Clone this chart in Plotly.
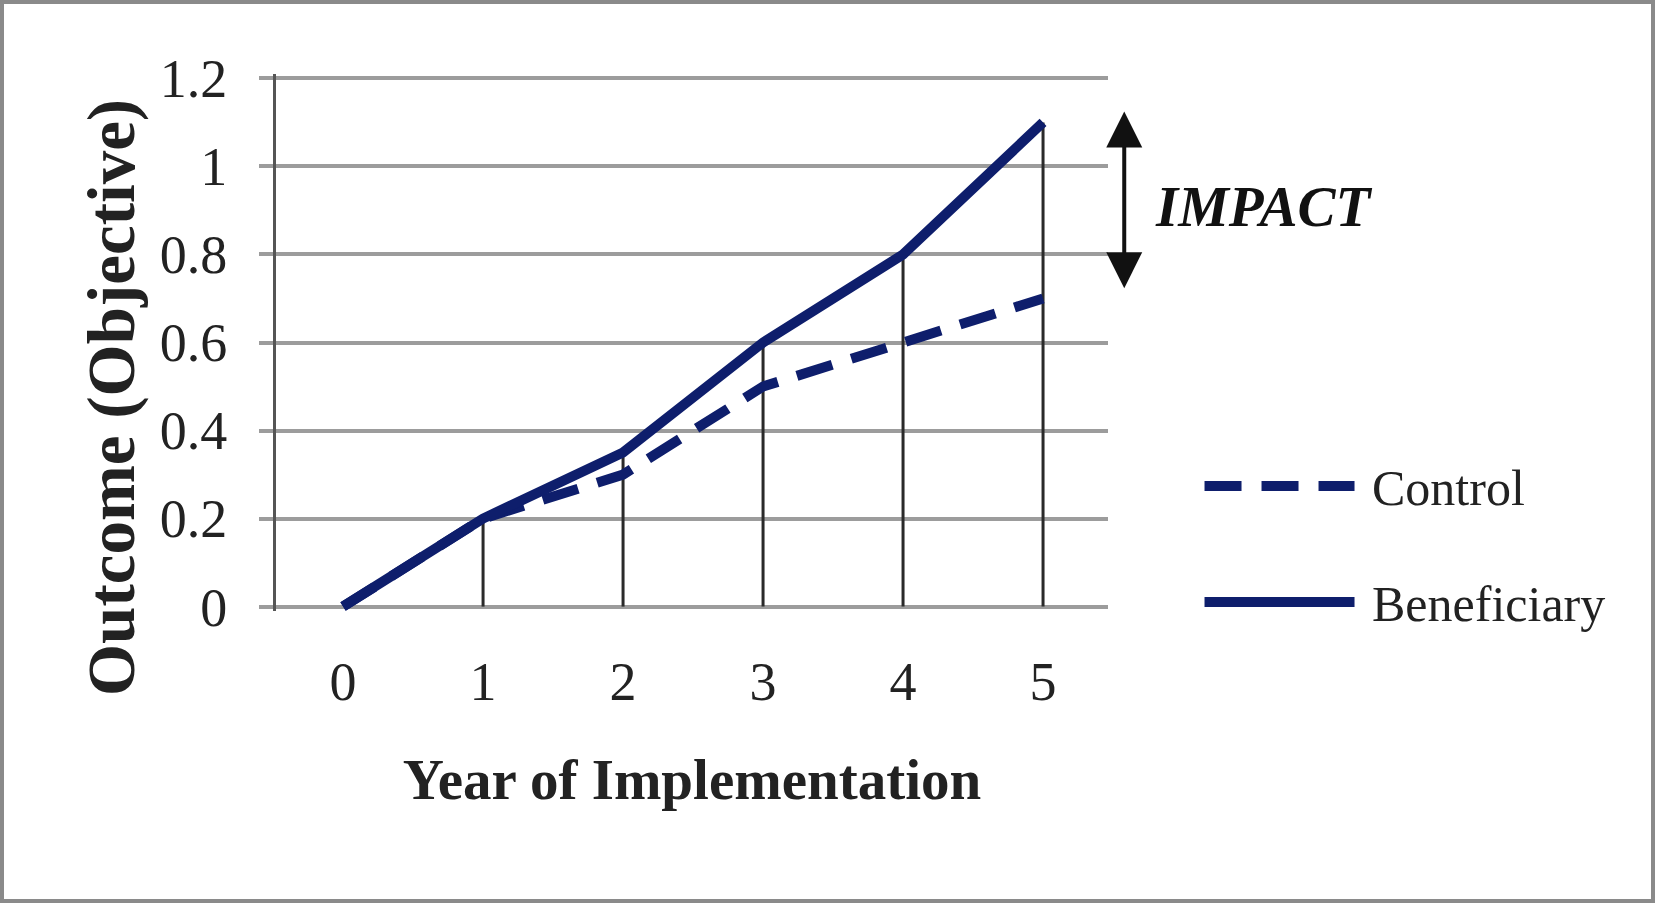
import plotly.graph_objects as go

years = [0, 1, 2, 3, 4, 5]
control = [0, 0.2, 0.3, 0.5, 0.6, 0.7]
beneficiary = [0, 0.2, 0.35, 0.6, 0.8, 1.1]
y_tickvals = [0, 0.2, 0.4, 0.6, 0.8, 1.0, 1.2]
y_ticktext = ["0", "0.2", "0.4", "0.6", "0.8", "1", "1.2"]
x_ticktext = ["0", "1", "2", "3", "4", "5"]

NAVY = "#0e1e6c"
GRID = "#9c9c9c"
FONT = "Liberation Serif"

W, H = 1655, 903
ML, MR, MT, MB = 276, 547, 74, 292
XR = [-0.479, 5.464]
YR = [-0.01, 1.21]

fig = go.Figure()

# drop lines from each point to the axis
dx, dy = [], []
for x, a, b in zip(years, control, beneficiary):
    dx += [x, x, None]
    dy += [0, max(a, b), None]
fig.add_trace(go.Scatter(x=dx, y=dy, mode="lines", line=dict(color="#2a2a2a", width=3),
                         showlegend=False, hoverinfo="skip"))

fig.add_trace(go.Scatter(x=years, y=control, mode="lines", name="\u00a0Control",
                         legendgroup="c",
                         line=dict(color=NAVY, width=10, dash="37px,20px")))
fig.add_trace(go.Scatter(x=years, y=beneficiary, mode="lines", name="\u00a0Beneficiary",
                         legendgroup="b",
                         line=dict(color=NAVY, width=10)))

pw = W - ML - MR
ph = H - MT - MB
py_per_unit = ph / (YR[1] - YR[0])


def xp(v):
    return (v - XR[0]) / (XR[1] - XR[0])


def yp(v):
    return (v - YR[0]) / (YR[1] - YR[0])


# impact arrow (to the right of year 5)
arrow_x = xp(years[-1] + 0.58)
top = beneficiary[-1] + 0.025
bottom = control[-1] + 0.02
fig.add_annotation(x=arrow_x, y=yp(top), ax=0, ay=(top - bottom) * py_per_unit,
                   xref="paper", yref="paper", axref="pixel", ayref="pixel",
                   showarrow=True, arrowhead=2, startarrowhead=2, arrowside="end+start",
                   arrowwidth=4, arrowsize=1.8, startarrowsize=1.8, arrowcolor="#111111", text="")
fig.add_annotation(x=xp(years[-1] + 0.785), y=yp((beneficiary[-1] + control[-1]) / 2 + 0.01),
                   xref="paper", yref="paper",
                   xanchor="left", yanchor="middle", showarrow=False,
                   text="<b><i>IMPACT</i></b>", font=dict(family=FONT, size=57, color="#111111"))

# y-axis title
fig.add_annotation(x=(111 - ML) / pw, y=1 - (398 - MT) / ph, xref="paper", yref="paper",
                   xanchor="center", yanchor="middle", showarrow=False, textangle=-90,
                   text="<b>Outcome (Objective)</b>",
                   font=dict(family=FONT, size=67, color="#222222"))

# outer frame
fig.add_shape(type="rect", xref="paper", yref="paper",
              x0=(-ML + 2) / pw, x1=1 + (MR - 2) / pw,
              y0=(-MB + 2) / ph, y1=1 + (MT - 2) / ph,
              line=dict(color="#8a8a8a", width=4), layer="below")

fig.update_layout(
    width=W, height=H,
    margin=dict(l=ML, r=MR, t=MT, b=MB, autoexpand=False),
    paper_bgcolor="white", plot_bgcolor="white",
    font=dict(family=FONT, color="#222222"),
    showlegend=True,
    legend=dict(x=1.11, y=0.125, xanchor="left", yanchor="middle",
                font=dict(family=FONT, size=50, color="#222222"),
                itemwidth=150, tracegroupgap=48, bgcolor="rgba(0,0,0,0)"),
)
fig.update_xaxes(range=XR, tickvals=years, ticktext=x_ticktext,
                 showgrid=False, zeroline=False, showline=False, ticks="",
                 tickfont=dict(family=FONT, size=54, color="#222222"),
                 ticklabelstandoff=34,
                 title=dict(text="<b>Year of Implementation</b>",
                            font=dict(family=FONT, size=57, color="#222222"), standoff=48),
                 automargin=False)
fig.update_yaxes(range=YR, tickvals=y_tickvals, ticktext=y_ticktext,
                 showgrid=True, gridcolor=GRID, gridwidth=4, zeroline=False,
                 showline=True, linecolor="#555555", linewidth=3,
                 ticks="outside", ticklen=14, tickcolor=GRID, tickwidth=4,
                 tickfont=dict(family=FONT, size=54, color="#222222"),
                 ticklabelstandoff=21,
                 automargin=False)

fig.write_html("out.html", config={"displayModeBar": False},
               post_script="document.body.style.margin='0px';")
